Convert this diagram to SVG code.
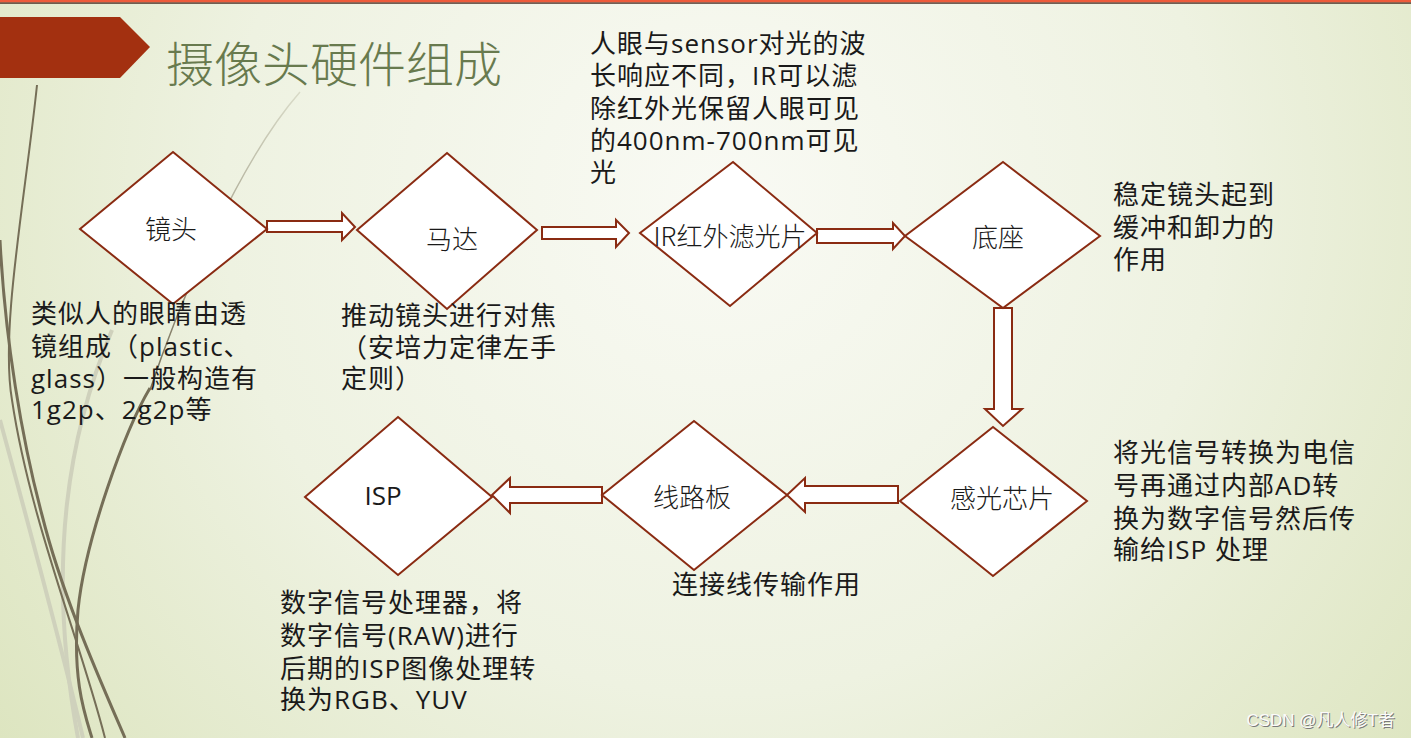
<svg xmlns="http://www.w3.org/2000/svg" width="1411" height="738" viewBox="0 0 1411 738">
<defs>
<radialGradient id="bg" cx="720" cy="200" r="900" gradientUnits="userSpaceOnUse">
<stop offset="0" stop-color="#f9faf4"/>
<stop offset="0.55" stop-color="#eef2e1"/>
<stop offset="1" stop-color="#dde5c0"/>
</radialGradient>
<linearGradient id="fade" x1="300" y1="92" x2="150" y2="390" gradientUnits="userSpaceOnUse">
<stop offset="0" stop-color="#d9dbc8"/>
<stop offset="1" stop-color="#766f58"/>
</linearGradient>
<style>
.dia{fill:#ffffff;stroke:#8a2b12;stroke-width:2}
.arr{fill:#ffffff;stroke:#8a2b12;stroke-width:2;stroke-linejoin:miter}
.lbl{font-family:"Noto Sans CJK SC","Open Sans",sans-serif;font-size:26px;font-weight:300;fill:#1a1a1a;text-anchor:middle}
.isp{font-family:"Open Sans","Noto Sans CJK SC",sans-serif;font-size:26px;fill:#1a1a1a;text-anchor:middle}
.txt{font-family:"Open Sans","Noto Sans CJK SC",sans-serif;font-size:26px;letter-spacing:1px;fill:#1a1a1a}
.dark{fill:none;stroke:#756e57}
.light{fill:none;stroke:#cfd1bc}
.wm{font-family:"Liberation Sans","Noto Sans CJK SC",sans-serif;font-size:17px;text-anchor:end}
</style>
</defs>
<rect width="1411" height="738" fill="url(#bg)"/>
<rect x="0" y="0" width="1411" height="2.5" fill="#ee5b3b"/>
<rect x="0" y="2.5" width="1411" height="1.2" fill="#3b2218"/>

<g id="decor">
<path class="light" stroke-width="4" d="M0,420 C30,530 60,640 83,738"/>
<path class="light" stroke-width="4" d="M112,330 C70,430 45,560 78,738"/>
<path class="dark" stroke-width="2" d="M37,85 C25,200 0,330 12,400 C30,520 80,640 105,738"/>
<path class="dark" stroke-width="3" d="M0,240 C5,340 22,440 42,515 C62,595 100,680 125,738"/>
<path fill="none" stroke="url(#fade)" stroke-width="1.5" d="M300,92 C240,160 180,300 150,390"/>
<path class="dark" stroke-width="3" d="M150,388 C125,430 85,540 78,610 C72,680 85,715 92,738"/>
</g>

<polygon points="0,17 120,17 150,47 120,78 0,78" fill="#a33010"/>
<text x="166" y="82" font-family="'Noto Sans CJK SC',sans-serif" font-size="48" font-weight="300" fill="#687a4e">摄像头硬件组成</text>

<g id="connectors">
<polygon class="arr" points="267,221 342,221 342,213 355,227 342,240 342,232 267,232"/>
<polygon class="arr" points="542,227 616,227 616,220 629,233 616,247 616,239 542,239"/>
<polygon class="arr" points="817,229 893,229 893,223 905,236 893,249 893,243 817,243"/>
<polygon class="arr" points="994,308 1012,308 1012,409 1022,409 1003,426 985,409 994,409"/>
<polygon class="arr" points="898,486 805,486 805,478 787,495 805,512 805,503 898,503"/>
<polygon class="arr" points="602,487 510,487 510,478 492,495 510,513 510,503 602,503"/>
</g>

<g id="n-lens">
<polygon class="dia" points="173,152 267,229 173,304 80,229"/>
<text class="lbl" x="171" y="239">镜头</text>
</g>
<g id="n-motor">
<polygon class="dia" points="447,153 537,230 447,309 357,230"/>
<text class="lbl" x="452" y="249">马达</text>
</g>
<g id="n-ir">
<polygon class="dia" points="733,162 817,233 730,306 640,233"/>
<text class="lbl" x="730" y="246">IR红外滤光片</text>
</g>
<g id="n-base">
<polygon class="dia" points="1003,162 1100,236 1003,308 905,236"/>
<text class="lbl" x="998" y="247">底座</text>
</g>
<g id="n-sensor">
<polygon class="dia" points="993,427 1087,501 993,576 900,501"/>
<text class="lbl" x="1002" y="508">感光芯片</text>
</g>
<g id="n-board">
<polygon class="dia" points="694,421 787,495 694,570 602,495"/>
<text class="lbl" x="692" y="507">线路板</text>
</g>
<g id="n-isp">
<polygon class="dia" points="398,417 492,497 398,575 305,497"/>
<text class="isp" x="383" y="505">ISP</text>
</g>

<g id="notes">
<text class="txt" x="31" y="323">类似人的眼睛由透</text>
<text class="txt" x="31" y="356">镜组成（plastic、</text>
<text class="txt" x="31" y="388">glass）一般构造有</text>
<text class="txt" x="31" y="419">1g2p、2g2p等</text>

<text class="txt" x="341" y="325">推动镜头进行对焦</text>
<text class="txt" x="341" y="357">（安培力定律左手</text>
<text class="txt" x="341" y="388">定则）</text>

<text class="txt" x="590" y="53">人眼与sensor对光的波</text>
<text class="txt" x="590" y="85">长响应不同，IR可以滤</text>
<text class="txt" x="590" y="118">除红外光保留人眼可见</text>
<text class="txt" x="590" y="150">的400nm-700nm可见</text>
<text class="txt" x="590" y="182">光</text>

<text class="txt" x="1113" y="204">稳定镜头起到</text>
<text class="txt" x="1113" y="237">缓冲和卸力的</text>
<text class="txt" x="1113" y="269">作用</text>

<text class="txt" x="1113" y="462">将光信号转换为电信</text>
<text class="txt" x="1113" y="495">号再通过内部AD转</text>
<text class="txt" x="1113" y="528">换为数字信号然后传</text>
<text class="txt" x="1113" y="559">输给ISP 处理</text>

<text class="txt" x="672" y="594">连接线传输作用</text>

<text class="txt" x="280" y="612">数字信号处理器，将</text>
<text class="txt" x="280" y="645">数字信号(RAW)进行</text>
<text class="txt" x="280" y="678">后期的ISP图像处理转</text>
<text class="txt" x="280" y="709">换为RGB、YUV</text>
</g>

<text class="wm" x="1396" y="727" fill="#7a7a7a">CSDN @凡人修T者</text>
<text class="wm" x="1395" y="726" fill="#fbfbfb">CSDN @凡人修T者</text>
</svg>
